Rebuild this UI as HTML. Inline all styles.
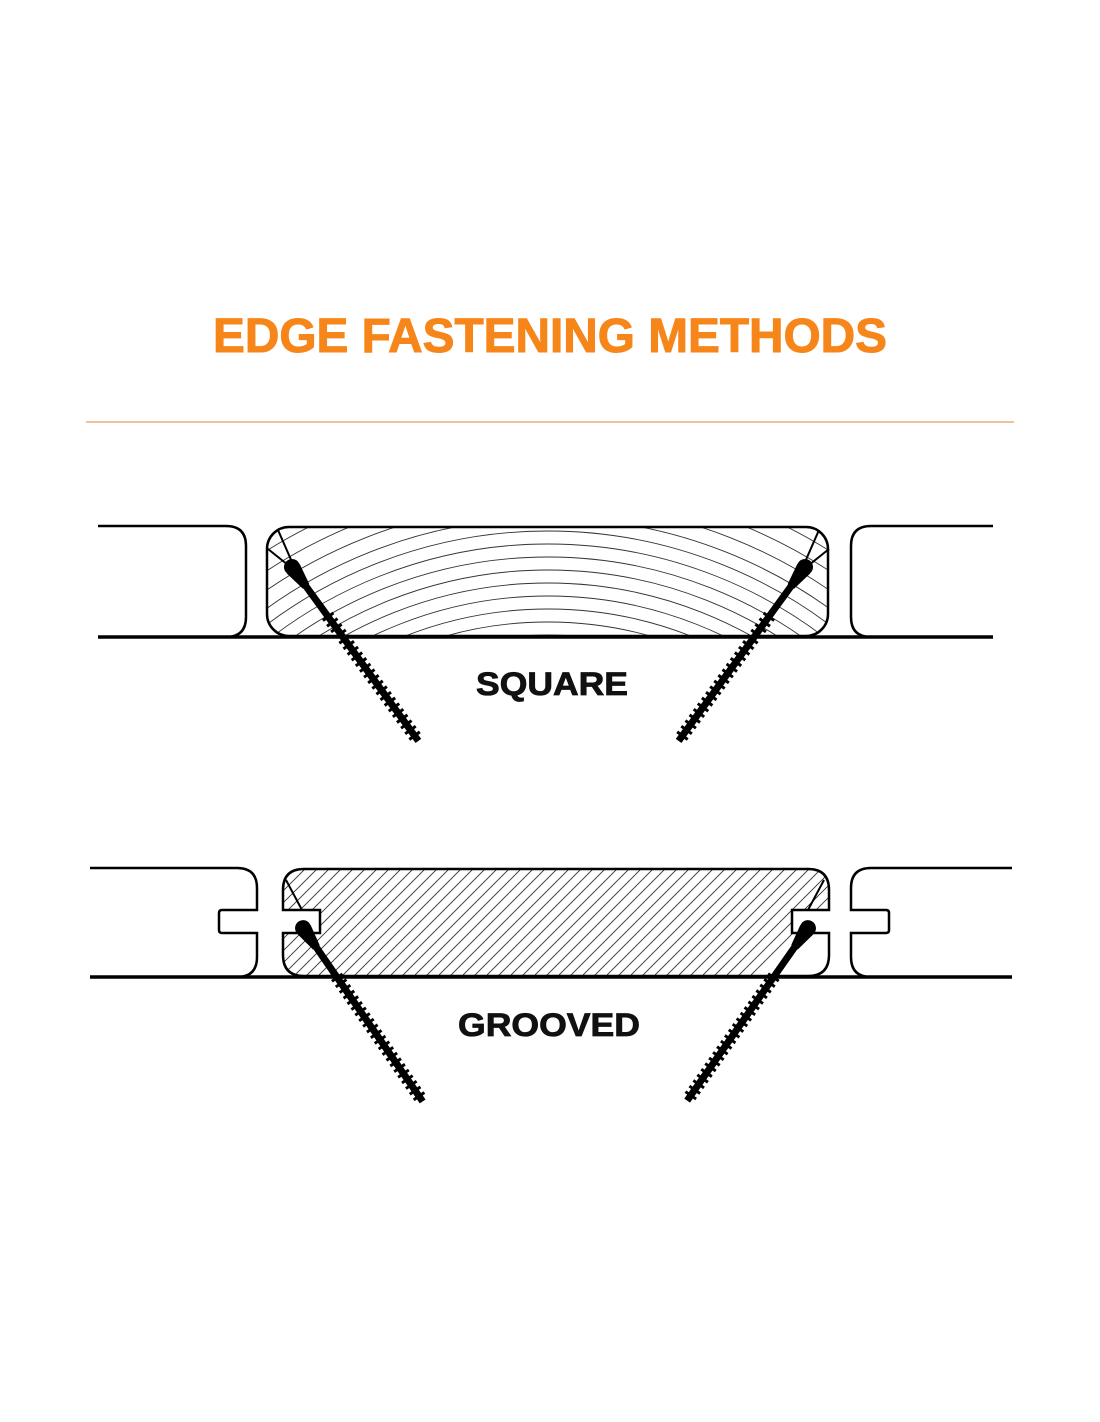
<!DOCTYPE html>
<html><head><meta charset="utf-8"><style>html,body{margin:0;padding:0;background:#fff;width:1100px;height:1422px;overflow:hidden}svg{display:block}</style></head>
<body>
<svg width="1100" height="1422" viewBox="0 0 1100 1422" xmlns="http://www.w3.org/2000/svg">
<defs>
<clipPath id="c1"><rect x="267" y="527" width="561" height="109" rx="22"/></clipPath>
<clipPath id="c2"><path d="M304,869 H808 Q829,869 829,890 V910 H792 V933 H829 V955 Q829,976 808,976 H304 Q283,976 283,955 V933 H320 V910 H283 V890 Q283,869 304,869 Z"/></clipPath>
<g id="screw">
<line x1="0" y1="0" x2="0" y2="215" stroke="#000" stroke-width="7"/>
<line x1="0" y1="60" x2="0" y2="213" stroke="#000" stroke-width="13" stroke-dasharray="3 4"/>
<circle cx="0" cy="0" r="8" fill="#000"/>
<polygon points="-8,2 8,2 4,24 -4,24" fill="#000"/>
</g>
</defs>
<text x="550" y="352" text-anchor="middle" font-family="Liberation Sans, sans-serif" font-weight="bold" font-size="48" fill="#F7861A" stroke="#F7861A" stroke-width="1" textLength="674" lengthAdjust="spacingAndGlyphs">EDGE FASTENING METHODS</text>
<line x1="86" y1="422" x2="1014" y2="422" stroke="#E8B070" stroke-width="1.5"/>

<!-- SQUARE -->
<g clip-path="url(#c1)" fill="none" stroke="#333" stroke-width="0.9">
<circle cx="548" cy="1000" r="365"/><circle cx="548" cy="1000" r="378"/><circle cx="548" cy="1000" r="391"/><circle cx="548" cy="1000" r="404"/><circle cx="548" cy="1000" r="417"/><circle cx="548" cy="1000" r="430"/><circle cx="548" cy="1000" r="443"/><circle cx="548" cy="1000" r="456"/><circle cx="548" cy="1000" r="469"/><circle cx="548" cy="1000" r="482"/><circle cx="548" cy="1000" r="497"/><circle cx="548" cy="1000" r="513"/><circle cx="548" cy="1000" r="530"/><circle cx="548" cy="1000" r="548"/><circle cx="548" cy="1000" r="567"/><circle cx="548" cy="1000" r="587"/><circle cx="548" cy="1000" r="608"/>
</g>
<path d="M98,526 H226 Q246,526 246,546 V617 Q246,637 226,637" fill="none" stroke="#000" stroke-width="2.5"/>
<rect x="267" y="527" width="561" height="109" rx="22" fill="none" stroke="#000" stroke-width="2.5"/>
<path d="M993,526 H871 Q851,526 851,546 V617 Q851,637 871,637" fill="none" stroke="#000" stroke-width="2.5"/>
<line x1="98" y1="637" x2="993" y2="637" stroke="#000" stroke-width="3.5"/>
<line x1="278" y1="530" x2="292" y2="562" stroke="#000" stroke-width="2"/>
<line x1="268" y1="549" x2="288" y2="565" stroke="#000" stroke-width="2"/>
<line x1="819" y1="530" x2="805" y2="562" stroke="#000" stroke-width="2"/>
<line x1="829" y1="549" x2="809" y2="565" stroke="#000" stroke-width="2"/>
<use href="#screw" transform="translate(292,567) rotate(-36)"/>
<use href="#screw" transform="translate(805,567) rotate(36)"/>
<text x="552" y="695" text-anchor="middle" font-family="Liberation Sans, sans-serif" font-weight="bold" font-size="32" fill="#111" stroke="#111" stroke-width="0.8" textLength="152" lengthAdjust="spacingAndGlyphs">SQUARE</text>

<!-- GROOVED -->
<g clip-path="url(#c2)" stroke="#333" stroke-width="0.9">
<path d="M150,1000 L300,850 M162,1000 L312,850 M174,1000 L324,850 M186,1000 L336,850 M198,1000 L348,850 M210,1000 L360,850 M222,1000 L372,850 M234,1000 L384,850 M246,1000 L396,850 M258,1000 L408,850 M270,1000 L420,850 M282,1000 L432,850 M294,1000 L444,850 M306,1000 L456,850 M318,1000 L468,850 M330,1000 L480,850 M342,1000 L492,850 M354,1000 L504,850 M366,1000 L516,850 M378,1000 L528,850 M390,1000 L540,850 M402,1000 L552,850 M414,1000 L564,850 M426,1000 L576,850 M438,1000 L588,850 M450,1000 L600,850 M462,1000 L612,850 M474,1000 L624,850 M486,1000 L636,850 M498,1000 L648,850 M510,1000 L660,850 M522,1000 L672,850 M534,1000 L684,850 M546,1000 L696,850 M558,1000 L708,850 M570,1000 L720,850 M582,1000 L732,850 M594,1000 L744,850 M606,1000 L756,850 M618,1000 L768,850 M630,1000 L780,850 M642,1000 L792,850 M654,1000 L804,850 M666,1000 L816,850 M678,1000 L828,850 M690,1000 L840,850 M702,1000 L852,850 M714,1000 L864,850 M726,1000 L876,850"/>
</g>
<path d="M90,868 H237 Q257,868 257,888 V910 H222 Q219,910 219,913 V930 Q219,933 222,933 H257 V957 Q257,977 237,977" fill="none" stroke="#000" stroke-width="2.5"/>
<path d="M304,869 H808 Q829,869 829,890 V910 H792 V933 H829 V955 Q829,976 808,976 H304 Q283,976 283,955 V933 H320 V910 H283 V890 Q283,869 304,869 Z" fill="none" stroke="#000" stroke-width="2.5"/>
<path d="M1012,868 H871 Q851,868 851,888 V910 H886 Q889,910 889,913 V930 Q889,933 886,933 H851 V957 Q851,977 871,977" fill="none" stroke="#000" stroke-width="2.5"/>
<line x1="90" y1="977" x2="1012" y2="977" stroke="#000" stroke-width="3.5"/>
<line x1="286" y1="880" x2="302" y2="910" stroke="#000" stroke-width="2"/>
<line x1="824" y1="880" x2="808" y2="910" stroke="#000" stroke-width="2"/>
<use href="#screw" transform="translate(303,928) rotate(-34.6) scale(1,0.98)"/>
<use href="#screw" transform="translate(808,928) rotate(35) scale(1,0.98)"/>
<text x="549" y="1036" text-anchor="middle" font-family="Liberation Sans, sans-serif" font-weight="bold" font-size="32" fill="#111" stroke="#111" stroke-width="0.8" textLength="182" lengthAdjust="spacingAndGlyphs">GROOVED</text>
</svg>
</body></html>
